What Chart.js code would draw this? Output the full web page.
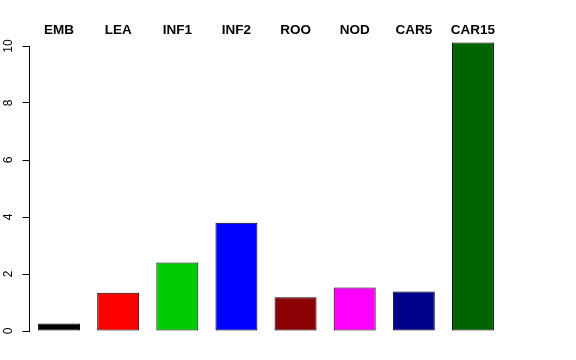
<!DOCTYPE html>
<html>
<head>
<meta charset="utf-8">
<script src="https://cdn.jsdelivr.net/npm/chart.js@4/dist/chart.umd.min.js"></script>
<style>
  html, body { margin: 0; padding: 0; background: #fff; }
</style>
</head>
<body>
<canvas id="barChart" width="576" height="360"></canvas>
<script>
// data
var categories = ["EMB", "LEA", "INF1", "INF2", "ROO", "NOD", "CAR5", "CAR15"];
var values = [0.26, 1.34, 2.40, 3.80, 1.18, 1.53, 1.39, 10.12];
var barColors = ["#000000", "#FF0000", "#00CD00", "#0000FF", "#8B0000", "#FF00FF", "#00008B", "#006400"];
var yTicks = [0, 2, 4, 6, 8, 10];

// rotated y tick labels, R style
var rotatedYLabels = {
    id: "rotatedYLabels",
    afterDraw: function(chart) {
        var ctx = chart.ctx,
            y = chart.scales.y;
        ctx.save();
        ctx.fillStyle = "#000";
        ctx.font = "12px 'Liberation Sans', Arial, sans-serif";
        ctx.textAlign = "center";
        ctx.textBaseline = "alphabetic";
        yTicks.forEach(function(v) {
            ctx.save();
            ctx.translate(12, y.getPixelForValue(v));
            ctx.rotate(-Math.PI / 2);
            ctx.fillText(String(v), 0, 0);
            ctx.restore();
        });
        ctx.restore();
    }
};

var chart = new Chart(document.getElementById("barChart"), {
    type: "bar",
    data: {
        labels: categories,
        datasets: [{
            data: values,
            backgroundColor: barColors,
            borderColor: "#000",
            borderWidth: 1,
            borderSkipped: false,
            barPercentage: 0.71,
            categoryPercentage: 1,
            clip: false
        }]
    },
    options: {
        responsive: false,
        animation: false,
        layout: { padding: { left: 0, top: 0, right: 73.5, bottom: 29 } },
        plugins: { legend: { display: false }, tooltip: { enabled: false } },
        scales: {
            x: {
                position: "top",
                grid: { display: false },
                border: { display: false },
                ticks: {
                    color: "#000",
                    padding: 0,
                    maxRotation: 0,
                    font: { family: "'Liberation Sans', Arial, sans-serif", size: 13.5, weight: "bold" }
                },
                afterFit: function(s) { s.height = 46; }
            },
            y: {
                min: 0,
                max: 10,
                afterBuildTicks: function(s) {
                    s.ticks = yTicks.map(function(v) { return { value: v }; });
                },
                grid: { drawOnChartArea: false, drawTicks: true, tickLength: 7, color: "#000" },
                border: { display: true, color: "#000", width: 1 },
                ticks: { display: false },
                afterFit: function(s) { s.width = 29.5; }
            }
        }
    },
    plugins: [rotatedYLabels]
});
</script>
</body>
</html>
